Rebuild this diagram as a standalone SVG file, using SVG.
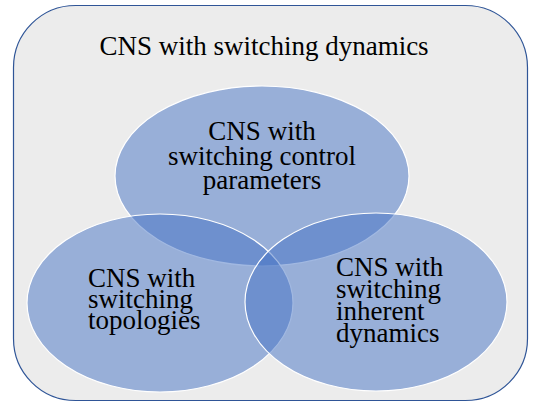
<svg xmlns="http://www.w3.org/2000/svg" width="534" height="407" viewBox="0 0 534 407">
<style>
.e{fill:#4472c4;fill-opacity:0.5;stroke:#ffffff;stroke-width:1.2}
</style>
<rect width="534" height="407" fill="#ffffff"/>
<g id="outer">
<rect x="13.5" y="5.5" width="514" height="395" rx="62" ry="62" fill="#ececec" stroke="#2f5597" stroke-width="1.2"/>
<text font-family="Liberation Serif, Times New Roman, serif" font-size="27" fill="#000" x="264" y="55" text-anchor="middle">CNS with switching dynamics</text>
</g>
<g id="control">
<ellipse class="e" cx="262" cy="176" rx="147" ry="90"/>
</g>
<g id="topologies">
<ellipse class="e" cx="160" cy="303" rx="133" ry="89"/>
</g>
<g id="inherent">
<ellipse class="e" cx="376" cy="302" rx="131" ry="89"/>
</g>
<g id="labels" font-family="Liberation Serif, Times New Roman, serif" font-size="27" fill="#000">
<text text-anchor="middle"><tspan x="262" y="140">CNS with</tspan><tspan x="262" y="165">switching control</tspan><tspan x="262" y="189">parameters</tspan></text>
<text><tspan x="88" y="287">CNS with</tspan><tspan x="88" y="308">switching</tspan><tspan x="88" y="329">topologies</tspan></text>
<text><tspan x="336" y="276">CNS with</tspan><tspan x="336" y="298">switching</tspan><tspan x="336" y="320">inherent</tspan><tspan x="336" y="342">dynamics</tspan></text>
</g>
<g id="connectors"></g>
</svg>
